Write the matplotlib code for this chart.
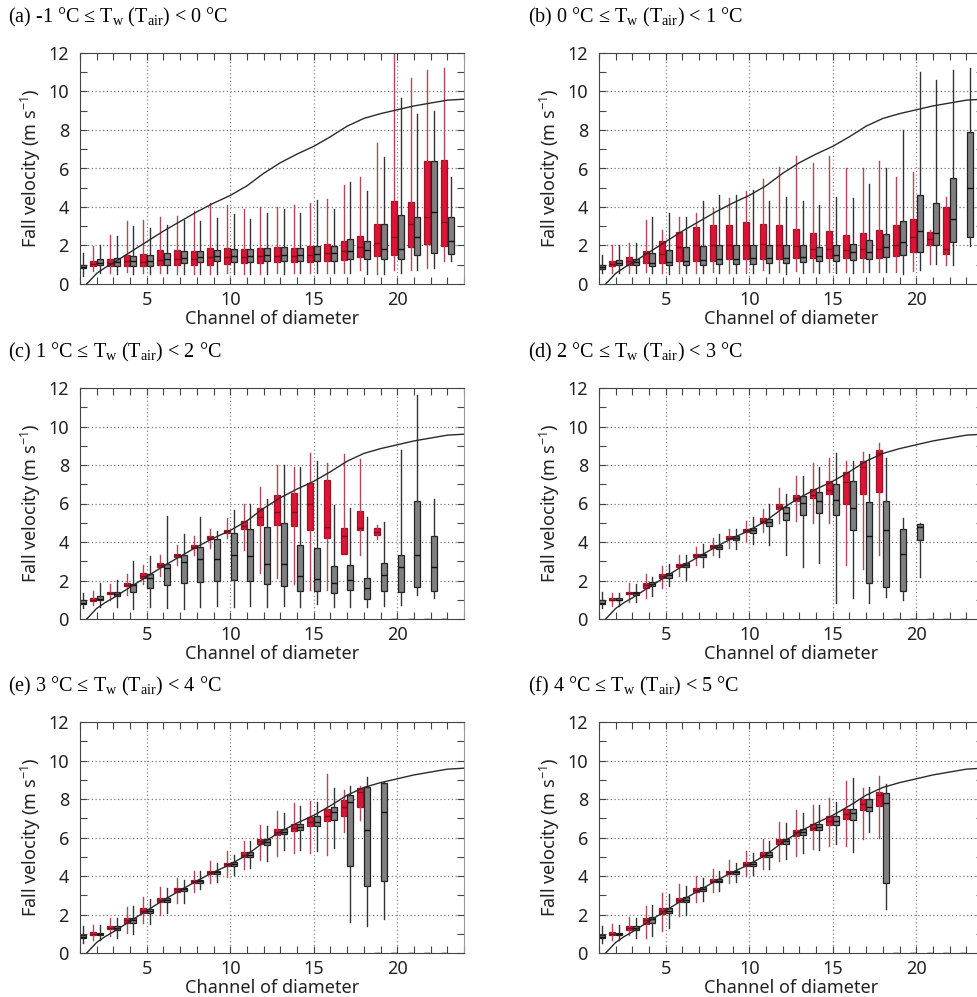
import numpy as np
import matplotlib
matplotlib.use("Agg")
from matplotlib import pyplot as plt

plt.rcParams['font.family'] = ['Noto Sans', 'DejaVu Sans']
plt.rcParams['mathtext.fontset'] = 'custom'
plt.rcParams['mathtext.rm'] = 'Liberation Serif'
plt.rcParams['mathtext.sf'] = 'Noto Sans'

# reference fall speed curve (channel, m/s)
curve_ch = [1.4, 2, 2.5, 3, 4, 5, 6, 7, 8, 9, 10, 11, 12, 13, 14, 15, 16, 17, 18, 19, 20, 21, 22, 23, 24]
curve_v = [0.0, 0.55, 0.85, 1.1, 1.65, 2.2, 2.75, 3.25, 3.75, 4.2, 4.6, 5.1, 5.75, 6.3, 6.75, 7.15,
           7.65, 8.2, 8.6, 8.85, 9.05, 9.25, 9.4, 9.55, 9.6]

titles = ['(a) -1 °C ≤ T$_{\\mathrm{w}}$ (T$_{\\mathrm{air}}$) < 0 °C',
          '(b) 0 °C ≤ T$_{\\mathrm{w}}$ (T$_{\\mathrm{air}}$) < 1 °C',
          '(c) 1 °C ≤ T$_{\\mathrm{w}}$ (T$_{\\mathrm{air}}$) < 2 °C',
          '(d) 2 °C ≤ T$_{\\mathrm{w}}$ (T$_{\\mathrm{air}}$) < 3 °C',
          '(e) 3 °C ≤ T$_{\\mathrm{w}}$ (T$_{\\mathrm{air}}$) < 4 °C',
          '(f) 4 °C ≤ T$_{\\mathrm{w}}$ (T$_{\\mathrm{air}}$) < 5 °C']

# box stats per channel: [whisker low, q1, median, q3, whisker high]
# (a)
red_ch_a = list(range(2, 24))
red_a = [[0.65, 0.92, 1.05, 1.2, 1.95], [0.55, 0.92, 1.1, 1.3, 2.55], [0.6, 0.92, 1.2, 1.52, 3.25],
         [0.55, 0.95, 1.15, 1.58, 3.3], [0.55, 1.0, 1.25, 1.75, 3.5], [0.5, 1.0, 1.3, 1.78, 3.55],
         [0.5, 1.0, 1.3, 1.7, 3.8], [0.52, 1.0, 1.4, 1.85, 4.2], [0.55, 1.05, 1.4, 1.85, 4.1],
         [0.5, 1.1, 1.4, 1.8, 3.9], [0.5, 1.1, 1.45, 1.85, 4.0], [0.55, 1.15, 1.45, 1.9, 4.0],
         [0.55, 1.15, 1.45, 1.87, 4.1], [0.57, 1.15, 1.5, 1.95, 4.2], [0.57, 1.2, 1.6, 2.1, 4.4],
         [0.55, 1.25, 1.7, 2.25, 5.15], [0.75, 1.4, 1.9, 2.5, 5.55], [0.5, 1.47, 2.15, 3.1, 7.35],
         [0.75, 1.52, 2.45, 4.3, 12.5], [0.75, 1.9, 3.1, 4.25, 10.7], [0.83, 2.1, 3.5, 6.4, 11.1],
         [1.2, 1.95, 3.2, 6.45, 11.2]]
gray_ch_a = list(range(1, 24))
gray_a = [[0.4, 0.83, 0.9, 1.0, 1.6], [0.55, 0.97, 1.1, 1.3, 2.05], [0.5, 0.92, 1.15, 1.35, 2.5],
          [0.5, 0.92, 1.2, 1.47, 3.0], [0.5, 0.95, 1.2, 1.5, 2.9], [0.55, 1.0, 1.3, 1.6, 3.05],
          [0.5, 1.1, 1.35, 1.7, 3.3], [0.5, 1.15, 1.4, 1.7, 3.25], [0.5, 1.18, 1.45, 1.75, 3.45],
          [0.5, 1.15, 1.45, 1.8, 3.65], [0.5, 1.15, 1.45, 1.8, 3.4], [0.5, 1.18, 1.5, 1.87, 3.7],
          [0.5, 1.18, 1.5, 1.9, 3.9], [0.55, 1.18, 1.5, 1.87, 3.7], [0.55, 1.18, 1.55, 1.95, 4.35],
          [0.57, 1.18, 1.6, 1.95, 3.9], [0.55, 1.3, 1.7, 2.35, 5.3], [0.5, 1.3, 1.75, 2.25, 4.85],
          [0.5, 1.3, 1.8, 3.1, 6.6], [0.55, 1.3, 1.8, 3.6, 9.65], [0.75, 1.52, 2.45, 3.5, 8.85],
          [0.83, 1.6, 3.75, 6.4, 9.0], [1.2, 1.55, 2.25, 3.5, 5.55]]
# (b)
red_ch_b = list(range(2, 23))
red_b = [[0.57, 0.92, 1.05, 1.2, 2.05], [0.57, 1.0, 1.2, 1.38, 2.15], [0.6, 1.1, 1.6, 1.73, 3.35],
         [0.57, 1.1, 1.55, 2.25, 2.8], [0.57, 1.18, 1.9, 2.68, 3.5], [0.57, 1.2, 2.0, 2.95, 3.7],
         [0.6, 1.2, 2.05, 3.07, 3.95], [0.57, 1.3, 2.05, 3.07, 4.45], [0.57, 1.3, 2.05, 3.2, 4.85],
         [0.75, 1.3, 2.1, 3.1, 5.45], [0.6, 1.3, 2.0, 3.05, 6.1], [0.65, 1.35, 1.95, 2.85, 6.65],
         [0.6, 1.35, 1.8, 2.65, 6.3], [0.6, 1.35, 1.8, 2.75, 6.65], [0.6, 1.35, 1.75, 2.55, 6.0],
         [0.6, 1.35, 1.8, 2.65, 6.05], [0.6, 1.35, 1.8, 2.82, 6.4], [0.6, 1.45, 2.0, 3.05, 5.55],
         [0.7, 1.65, 2.45, 3.4, 5.8], [1.05, 2.05, 2.35, 2.7, 2.8], [1.0, 1.55, 1.8, 4.0, 4.5]]
gray_ch_b = list(range(1, 24))
gray_b = [[0.55, 0.78, 0.88, 1.0, 1.52], [0.57, 0.97, 1.1, 1.23, 2.0], [0.57, 0.97, 1.15, 1.3, 2.15],
          [0.57, 0.92, 1.1, 1.6, 3.5], [0.53, 0.97, 1.15, 1.75, 3.7], [0.57, 0.97, 1.2, 1.9, 3.5],
          [0.57, 1.0, 1.25, 1.95, 4.3], [0.57, 1.05, 1.3, 2.0, 4.6], [0.57, 1.05, 1.3, 2.0, 4.6],
          [0.57, 1.05, 1.35, 2.05, 4.9], [0.57, 1.1, 1.35, 2.0, 4.3], [0.53, 1.1, 1.35, 2.0, 4.5],
          [0.57, 1.15, 1.4, 2.0, 4.3], [0.57, 1.18, 1.45, 1.92, 4.1], [0.57, 1.18, 1.5, 2.0, 4.5],
          [0.57, 1.25, 1.65, 2.1, 4.45], [0.6, 1.3, 1.65, 2.3, 5.2], [0.6, 1.4, 1.9, 2.6, 6.0],
          [0.53, 1.52, 2.2, 3.25, 8.0], [0.75, 1.65, 2.75, 4.6, 11.0], [1.05, 2.05, 2.65, 4.2, 10.6],
          [1.0, 2.2, 3.4, 5.5, 11.1], [1.95, 2.45, 5.0, 7.9, 11.2]]
# (c)
red_ch_c = list(range(2, 24))
red_c = [[0.75, 0.95, 1.0, 1.1, 1.45], [1.0, 1.3, 1.35, 1.42, 1.8], [1.25, 1.7, 1.78, 1.88, 2.35],
         [1.8, 2.15, 2.25, 2.38, 2.8], [2.25, 2.7, 2.8, 2.9, 3.35], [2.8, 3.2, 3.3, 3.38, 3.85],
         [3.35, 3.67, 3.75, 3.83, 4.3], [3.7, 4.15, 4.2, 4.3, 4.65], [4.2, 4.47, 4.55, 4.62, 5.25],
         [3.6, 4.7, 4.85, 5.1, 6.0], [2.4, 4.87, 5.3, 5.77, 6.85], [2.15, 4.9, 5.55, 6.42, 8.0],
         [1.8, 4.82, 5.55, 6.55, 7.9], [1.52, 4.64, 6.0, 7.07, 8.62], [1.5, 4.2, 4.8, 7.24, 8.1],
         [3.4, 3.4, 4.3, 4.73, 8.55], [3.35, 4.6, 4.75, 5.6, 8.33], [4.15, 4.35, 4.5, 4.75, 4.9],
         [0, 0, 0, 0, 0], [0, 0, 0, 0, 0], [0, 0, 0, 0, 0], [0, 0, 0, 0, 0]]
gray_ch_c = list(range(1, 23))
gray_c = [[0.55, 0.78, 0.85, 0.97, 1.35], [0.6, 0.97, 1.05, 1.2, 1.85], [0.6, 1.2, 1.3, 1.4, 2.05],
          [0.53, 1.4, 1.75, 1.82, 3.0], [0.6, 1.6, 2.15, 2.35, 3.25], [0.57, 1.75, 2.65, 2.85, 5.35],
          [0.53, 1.85, 2.95, 3.3, 4.4], [0.6, 1.92, 3.1, 3.75, 5.3], [0.65, 2.0, 3.1, 4.17, 4.55],
          [0.6, 2.05, 3.3, 4.47, 5.65], [0.65, 1.95, 3.25, 4.68, 5.95], [0.6, 1.82, 2.85, 4.8, 6.25],
          [0.7, 1.7, 2.85, 4.97, 8.0], [0.6, 1.45, 2.25, 3.83, 7.9], [0.78, 1.47, 2.1, 3.7, 8.2],
          [0.6, 1.35, 1.85, 2.77, 5.9], [0.6, 1.52, 2.05, 2.82, 5.75], [0.6, 1.05, 1.6, 2.15, 5.3],
          [0.65, 1.47, 2.3, 2.9, 5.05], [0.75, 1.4, 2.7, 3.35, 8.8], [1.25, 1.65, 3.35, 6.15, 11.65],
          [1.1, 1.47, 2.7, 4.3, 6.25]]
# (d)
red_ch_d = list(range(2, 24))
red_d = [[0.7, 0.97, 1.0, 1.1, 1.35], [0.9, 1.3, 1.35, 1.4, 1.85], [1.1, 1.6, 1.75, 1.87, 2.35],
         [1.6, 2.13, 2.25, 2.35, 2.75], [2.25, 2.68, 2.8, 2.87, 3.3], [2.8, 3.22, 3.3, 3.4, 3.75],
         [3.3, 3.7, 3.8, 3.86, 4.2], [3.7, 4.15, 4.22, 4.3, 4.65], [4.05, 4.52, 4.6, 4.7, 5.07],
         [4.5, 5.0, 5.1, 5.25, 5.7], [5.0, 5.7, 5.8, 5.95, 6.8], [5.07, 6.15, 6.3, 6.45, 7.45],
         [5.0, 6.3, 6.45, 6.75, 8.1], [5.0, 6.5, 6.7, 7.15, 8.36], [2.8, 6.0, 7.1, 7.64, 8.22],
         [2.6, 6.5, 7.9, 8.2, 8.7], [3.3, 6.58, 8.6, 8.76, 9.15], [0, 0, 0, 0, 0], [0, 0, 0, 0, 0],
         [0, 0, 0, 0, 0], [0, 0, 0, 0, 0], [0, 0, 0, 0, 0]]
gray_ch_d = list(range(1, 21))
gray_d = [[0.55, 0.78, 0.85, 0.97, 1.4], [0.7, 0.97, 1.0, 1.1, 1.35], [0.9, 1.27, 1.33, 1.4, 1.8],
          [1.2, 1.7, 1.8, 1.92, 2.2], [1.7, 2.13, 2.3, 2.4, 2.85], [2.05, 2.68, 2.78, 2.9, 3.35],
          [2.7, 3.2, 3.3, 3.4, 3.9], [3.2, 3.65, 3.75, 3.86, 4.4], [3.65, 4.12, 4.2, 4.3, 4.7],
          [3.9, 4.47, 4.6, 4.73, 5.3], [3.85, 4.85, 5.05, 5.2, 6.0], [3.3, 5.13, 5.5, 5.8, 6.5],
          [2.7, 5.4, 6.05, 6.4, 7.45], [2.9, 5.5, 6.15, 6.6, 7.9], [0.83, 5.42, 6.2, 7.03, 8.62],
          [1.1, 4.6, 5.75, 7.15, 8.22], [0.83, 1.87, 4.3, 6.1, 8.55], [1.15, 1.65, 4.6, 6.15, 8.36],
          [1.0, 1.45, 3.4, 4.7, 5.25], [2.2, 4.1, 4.8, 4.94, 5.0]]
# (e)
red_ch_e = list(range(2, 24))
red_e = [[0.7, 0.95, 1.0, 1.1, 1.45], [0.87, 1.25, 1.3, 1.38, 1.8], [1.04, 1.55, 1.7, 1.82, 2.37],
         [1.55, 2.1, 2.2, 2.33, 2.9], [2.0, 2.65, 2.75, 2.85, 3.45], [2.6, 3.17, 3.3, 3.38, 3.9],
         [3.17, 3.64, 3.72, 3.8, 4.28], [3.64, 4.1, 4.2, 4.28, 4.8], [3.95, 4.5, 4.6, 4.7, 5.28],
         [4.36, 4.99, 5.1, 5.23, 5.8], [4.85, 5.68, 5.8, 5.92, 6.63], [5.02, 6.15, 6.3, 6.44, 7.4],
         [5.2, 6.32, 6.5, 6.72, 7.8], [5.2, 6.58, 6.8, 7.07, 7.91], [5.1, 6.84, 7.1, 7.48, 9.32],
         [6.27, 7.1, 7.6, 7.97, 8.45], [6.93, 7.57, 8.35, 8.57, 8.66], [0, 0, 0, 0, 0],
         [0, 0, 0, 0, 0], [0, 0, 0, 0, 0], [0, 0, 0, 0, 0], [0, 0, 0, 0, 0]]
gray_ch_e = list(range(1, 20))
gray_e = [[0.52, 0.78, 0.85, 0.95, 1.38], [0.7, 0.92, 0.98, 1.04, 1.45], [0.78, 1.2, 1.3, 1.38, 1.8],
          [1.0, 1.55, 1.72, 1.82, 2.42], [1.52, 2.1, 2.2, 2.3, 2.8], [2.08, 2.65, 2.75, 2.86, 3.37],
          [2.6, 3.2, 3.3, 3.38, 3.77], [3.3, 3.64, 3.72, 3.8, 4.24], [3.7, 4.12, 4.2, 4.28, 4.68],
          [4.07, 4.54, 4.62, 4.71, 5.1], [4.4, 5.0, 5.1, 5.23, 5.8], [4.8, 5.63, 5.75, 5.9, 6.58],
          [5.37, 6.18, 6.3, 6.44, 7.27], [5.37, 6.4, 6.55, 6.72, 7.62], [5.28, 6.58, 6.82, 7.13, 7.84],
          [5.45, 6.93, 7.3, 7.57, 8.57], [1.6, 4.54, 7.85, 8.23, 8.7], [1.42, 3.5, 6.4, 8.6, 9.14],
          [1.77, 3.72, 7.35, 8.83, 8.87]]
# (f)
red_ch_f = list(range(2, 24))
red_f = [[0.66, 0.92, 1.0, 1.1, 1.52], [0.92, 1.2, 1.3, 1.38, 1.87], [0.78, 1.52, 1.7, 1.82, 2.46],
         [1.12, 2.03, 2.2, 2.34, 3.12], [1.94, 2.63, 2.75, 2.86, 3.58], [2.63, 3.17, 3.28, 3.38, 3.98],
         [3.15, 3.67, 3.75, 3.84, 4.36], [3.64, 4.1, 4.2, 4.28, 4.81], [3.98, 4.5, 4.6, 4.71, 5.28],
         [4.36, 4.99, 5.1, 5.23, 5.9], [4.8, 5.66, 5.8, 5.94, 6.8], [5.02, 6.1, 6.3, 6.4, 7.45],
         [5.42, 6.37, 6.5, 6.72, 7.7], [5.54, 6.67, 6.85, 7.1, 8.05], [5.54, 6.98, 7.2, 7.48, 8.92],
         [5.9, 7.45, 7.75, 8.0, 8.57], [5.97, 7.65, 8.2, 8.35, 9.2], [0, 0, 0, 0, 0],
         [0, 0, 0, 0, 0], [0, 0, 0, 0, 0], [0, 0, 0, 0, 0], [0, 0, 0, 0, 0]]
gray_ch_f = list(range(1, 19))
gray_f = [[0.52, 0.78, 0.85, 0.95, 1.38], [0.66, 0.92, 0.98, 1.04, 1.47], [0.78, 1.2, 1.3, 1.38, 1.82],
          [0.87, 1.55, 1.75, 1.87, 2.5], [1.3, 2.08, 2.2, 2.34, 3.08], [2.0, 2.65, 2.75, 2.9, 3.46],
          [2.68, 3.2, 3.3, 3.43, 3.9], [3.2, 3.67, 3.75, 3.84, 4.24], [3.67, 4.12, 4.2, 4.28, 4.7],
          [4.03, 4.5, 4.62, 4.71, 5.2], [4.36, 4.99, 5.1, 5.23, 5.8], [4.88, 5.68, 5.8, 5.92, 6.75],
          [5.2, 6.15, 6.3, 6.44, 7.27], [5.37, 6.4, 6.55, 6.72, 7.7], [5.68, 6.67, 6.85, 7.1, 7.83],
          [5.23, 6.9, 7.25, 7.48, 9.1], [6.27, 7.36, 7.6, 8.0, 8.62], [2.28, 3.64, 7.8, 8.3, 8.78]]

panels = [(red_ch_a, red_a, gray_ch_a, gray_a), (red_ch_b, red_b, gray_ch_b, gray_b),
          (red_ch_c, red_c, gray_ch_c, gray_c), (red_ch_d, red_d, gray_ch_d, gray_d),
          (red_ch_e, red_e, gray_ch_e, gray_e), (red_ch_f, red_f, gray_ch_f, gray_f)]

RED = '#dc1436'
RED_EDGE = '#a01228'
RED_WHISK = '#b04a58'
GRAY = '#808080'


def to_stats(rows):
    return [dict(whislo=r[0], q1=r[1], med=r[2], q3=r[3], whishi=r[4], fliers=[]) for r in rows]


def draw_boxes(ax, ch, rows, offset, face, edge, whisk, med):
    ax.bxp(to_stats(rows), positions=np.array(ch) + offset, widths=0.36, showfliers=False,
           showcaps=False, patch_artist=True, manage_ticks=False,
           boxprops=dict(facecolor=face, edgecolor=edge, linewidth=0.9),
           whiskerprops=dict(color=whisk, linewidth=1.0),
           medianprops=dict(color=med, linewidth=1.0))


fig = plt.figure(figsize=(9.77, 9.97), dpi=100)
W, H = 977.0, 997.0
lefts = [80, 599]
tops = [53, 388, 722]
axw, axh = 384, 231

for k, (rch, rdat, gch, gdat) in enumerate(panels):
    col, row = k % 2, k // 2
    x0, y0 = lefts[col], tops[row]
    ax = fig.add_axes([x0 / W, 1 - (y0 + axh) / H, axw / W, axh / H])

    # dotted guides at every 5th channel and every 2 m/s
    for g in [5, 10, 15, 20]:
        ax.plot([g, g], [0, 12], color='#8a8a8a', linestyle=(0, (1, 2)), linewidth=0.9, zorder=0)
    for g in [2, 4, 6, 8, 10]:
        ax.plot([1, 24], [g, g], color='#777777', linestyle=(0, (1, 2)), linewidth=0.9, zorder=0)

    draw_boxes(ax, rch, rdat, -0.2, RED, RED_EDGE, RED_WHISK, '#7a0d1a')
    draw_boxes(ax, gch, gdat, 0.2, GRAY, '#222222', '#333333', '#111111')

    ax.plot(curve_ch, curve_v, color='#2a2a2a', linewidth=1.0, zorder=5)

    ax.set_xlim(1, 24)
    ax.set_ylim(0, 12)
    ax.set_xticks(range(1, 25))
    ax.set_xticklabels(['' if t not in (5, 10, 15, 20) else str(t) for t in range(1, 25)])
    ax.set_yticks(range(0, 13, 2))
    ax.set_yticks(range(1, 13, 2), minor=True)
    ax.tick_params(axis='both', which='both', direction='in', top=True, right=True,
                   length=5, width=0.8, color='#444444', labelsize=13, labelcolor='#222222')
    ax.tick_params(axis='y', pad=8)
    ax.tick_params(axis='x', pad=5)
    for s in ['left', 'bottom', 'top']:
        ax.spines[s].set_color('#444444')
    ax.spines['right'].set_color('#999999')
    ax.set_xlabel('Channel of diameter', fontsize=13, color='#222222', labelpad=1)
    ax.set_ylabel('Fall velocity (m s$^{\\mathsf{-1}}$)', fontsize=13, color='#222222', labelpad=4)

    tx = 8 if col == 0 else 528
    fig.text(tx / W, 1 - (y0 - 36) / H, titles[k], fontsize=14.5, family='Liberation Serif',
             va='center', ha='left')

fig.savefig('out.png', dpi=100)
